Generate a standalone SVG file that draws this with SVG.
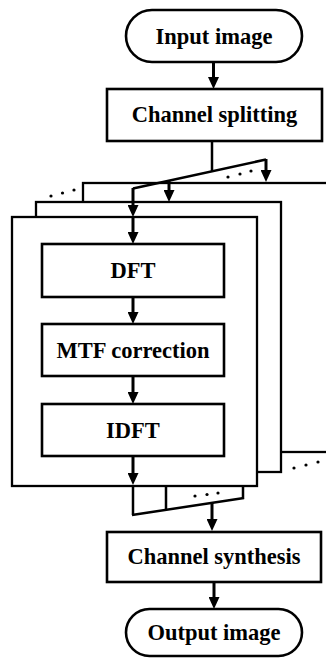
<svg xmlns="http://www.w3.org/2000/svg" width="326" height="659" viewBox="0 0 326 659">
  <style>
    .box { fill: #fff; stroke: #000; stroke-width: 2.6; }
    .layer { fill: #fff; stroke: #000; stroke-width: 2.3; }
    .lbl { font-family: "Liberation Serif", "Times New Roman", serif; font-weight: bold; font-size: 22.5px; text-anchor: middle; fill: #000; }
    .wire { fill: none; stroke: #000; stroke-width: 2.5; }
    .arrow { fill: none; stroke: #000; stroke-width: 3; marker-end: url(#head); }
    .dot { fill: #000; }
  </style>
  <defs>
    <marker id="head" markerUnits="userSpaceOnUse" markerWidth="12" markerHeight="11" refX="6" refY="5.5" orient="auto">
      <path d="M0,0 L12,5.5 L0,11 z" fill="#000"/>
    </marker>
  </defs>

  <!-- stacked per-channel pages, back to front -->
  <g id="page-back2">
    <rect class="layer" x="83" y="183" width="250" height="269"/>
  </g>
  <g id="page-back1">
    <rect class="layer" x="36" y="202" width="245" height="270"/>
  </g>
  <g id="page-front">
    <rect class="layer" x="12" y="217" width="245" height="269"/>
  </g>

  <g id="input-image">
    <rect class="box" x="126" y="10" width="176" height="52" rx="26"/>
    <text class="lbl" x="214" y="43.5">Input image</text>
  </g>
  <g id="channel-splitting">
    <rect class="box" x="107" y="89" width="215" height="52"/>
    <text class="lbl" x="214.5" y="122">Channel splitting</text>
  </g>
  <g id="dft">
    <rect class="box" x="42" y="244" width="182" height="53"/>
    <text class="lbl" x="133" y="278">DFT</text>
  </g>
  <g id="mtf-correction">
    <rect class="box" x="42" y="324" width="182" height="52"/>
    <text class="lbl" x="133" y="357.5">MTF correction</text>
  </g>
  <g id="idft">
    <rect class="box" x="42" y="404" width="182" height="52"/>
    <text class="lbl" x="133" y="437.5">IDFT</text>
  </g>
  <g id="channel-synthesis">
    <rect class="box" x="107" y="532" width="214" height="50"/>
    <text class="lbl" x="214" y="564">Channel synthesis</text>
  </g>
  <g id="output-image">
    <rect class="box" x="126" y="609" width="176" height="47" rx="23.5"/>
    <text class="lbl" x="214" y="640">Output image</text>
  </g>

  <g id="connectors">
    <!-- main flow -->
    <line class="arrow" x1="213.5" y1="62" x2="213.5" y2="83"/>
    <line class="wire" x1="212" y1="141" x2="212" y2="171" stroke-width="3.2"/>
    <!-- fan-out to the channels -->
    <polyline class="wire" points="133,188.5 266,159.5"/>
    <line class="arrow" x1="266" y1="159" x2="266" y2="176"/>
    <line class="arrow" x1="169" y1="180" x2="169" y2="196"/>
    <line class="arrow" x1="133" y1="188" x2="133" y2="211"/>
    <line class="arrow" x1="133" y1="217" x2="133" y2="238"/>
    <line class="arrow" x1="133" y1="297" x2="133" y2="318"/>
    <line class="arrow" x1="133" y1="376" x2="133" y2="398"/>
    <line class="arrow" x1="133" y1="456" x2="133" y2="479"/>
    <!-- fan-in from the channels -->
    <line class="wire" x1="133" y1="486" x2="133" y2="515" stroke-width="3"/>
    <line class="wire" x1="166" y1="486" x2="166" y2="510"/>
    <line class="wire" x1="243" y1="486" x2="243" y2="499"/>
    <polyline class="wire" points="132,515 244,498"/>
    <line class="arrow" x1="212" y1="503" x2="212" y2="525"/>
    <line class="arrow" x1="214" y1="582" x2="214" y2="603"/>
    <!-- ellipsis marks for further channels -->
    <circle class="dot" cx="228" cy="177" r="1.6"/>
    <circle class="dot" cx="240" cy="174" r="1.6"/>
    <circle class="dot" cx="251" cy="171" r="1.6"/>
    <circle class="dot" cx="51" cy="196" r="1.6"/>
    <circle class="dot" cx="62.5" cy="193" r="1.6"/>
    <circle class="dot" cx="74" cy="190" r="1.6"/>
    <circle class="dot" cx="195" cy="496" r="1.6"/>
    <circle class="dot" cx="207" cy="494.5" r="1.6"/>
    <circle class="dot" cx="218" cy="493" r="1.6"/>
    <circle class="dot" cx="294" cy="468" r="1.6"/>
    <circle class="dot" cx="306" cy="465" r="1.6"/>
    <circle class="dot" cx="318" cy="462" r="1.6"/>
  </g>
</svg>
